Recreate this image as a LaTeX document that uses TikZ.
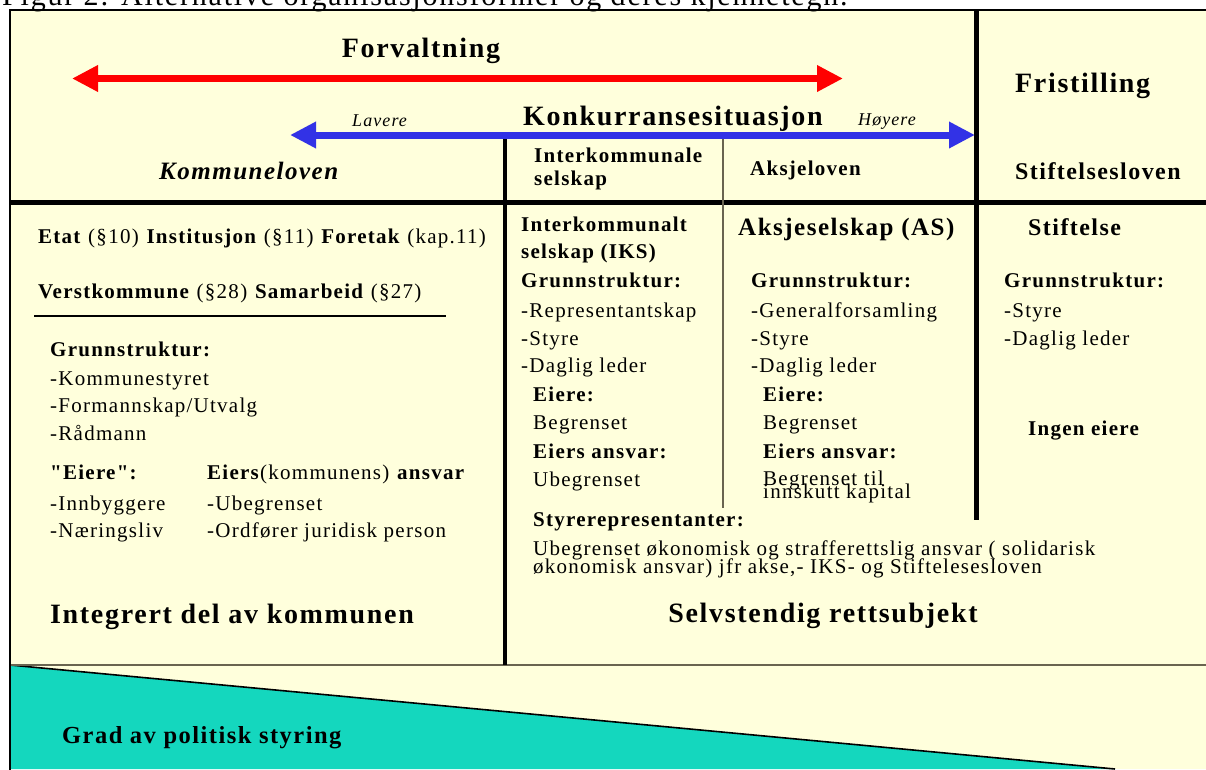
\documentclass[tikz,border=0pt]{standalone}
\usepackage{fontspec}
\setmainfont{Liberation Serif}[LetterSpace=6,Ligatures=TeXOff]
\usetikzlibrary{arrows.meta}
\definecolor{paper}{RGB}{255,255,220}
\definecolor{styring}{RGB}{20,215,190}
\definecolor{konkblue}{RGB}{50,50,230}
\definecolor{rule}{RGB}{105,100,80}

\begin{document}
\begin{tikzpicture}[x=1pt,y=-1pt,
    body/.style={anchor=base west,inner sep=0pt,font=\fontsize{21}{21}\selectfont},
    head/.style={body,font=\fontsize{21}{21}\selectfont\bfseries},
    big/.style={anchor=base west,inner sep=0pt,font=\fontsize{28}{28}\selectfont\bfseries},
    hint/.style={anchor=base west,inner sep=0pt,font=\fontsize{18}{18}\selectfont\itshape},
    thick rule/.style={line width=5pt},
    pil/.style={line width=7pt,{Triangle[length=26pt,width=25pt]}-{Triangle[length=26pt,width=25pt]}}]
  \clip (0,0) rectangle (1206,769);
  \fill[paper] (10,10) rectangle (1206,769);
  % grad av politisk styring
  \coordinate (wedgeL) at (10,665);
  \coordinate (wedgeR) at (1115,769);
  \fill[styring] (wedgeL) -- (wedgeR) -- (10,769) -- cycle;
  \draw[line width=1.6pt] (wedgeL) -- (wedgeR);
  \draw[rule,line width=1.6pt] (wedgeL) -- (1206,665);
  % ramme
  \draw[line width=1.6pt] (1210,10) -- (10,10) -- (10,775);
  \node[anchor=base west,inner sep=0pt,font=\fontsize{30}{30}\selectfont] (fig) at (2,5.5)
    {Figur 2: Alternative organisasjonsformer og deres kjennetegn.};
  % skillelinjer
  \coordinate (midtop) at (10,202);
  \coordinate (kolA) at (505,135);
  \coordinate (kolB) at (976,10);
  \coordinate (kolC) at (723,135);
  \draw[thick rule] (midtop) -- (1206,202);
  \draw[line width=4.5pt] (kolA) -- (505,665);
  \draw[thick rule] (kolB) -- (976,520);
  \draw[rule,line width=1.5pt] (kolC) -- (723,508);
  \coordinate (strekL) at (34,316);
  \coordinate (strekR) at (446,316);
  \draw[line width=1.2pt] (strekL) -- (strekR);
  % piler
  \coordinate (forvL) at (72,78.5);
  \coordinate (forvR) at (843,78.5);
  \coordinate (konkL) at (290,135);
  \coordinate (konkR) at (975,135);
  \draw[pil,red] (forvL) -- (forvR);
  \draw[pil,konkblue] (konkL) -- (konkR);

  % overskrifter
  \node[big,anchor=base] (forv) at (421,57) {Forvaltning};
  \node[big] (frist) at (1015,92) {Fristilling};
  \node[hint] (lav) at (352,126) {Lavere};
  \node[big] (konk) at (523,125) {Konkurransesituasjon};
  \node[hint] (hoy) at (858,125) {Høyere};
  \node[body,font=\fontsize{25}{25}\selectfont\bfseries\itshape] (kommlov) at (159,179) {Kommuneloven};
  \node[head] (ikslov) at (534,162) {Interkommunale};
  \node[head] (ikslov2) at (534,185) {selskap};
  \node[head] (aslov) at (750,175) {Aksjeloven};
  \node[head,font=\fontsize{24}{24}\selectfont\bfseries] (stlov) at (1015,179) {Stiftelsesloven};

  % kommunen
  \node[body] (etat) at (38,243) {\textbf{Etat} (§10) \textbf{Institusjon} (§11) \textbf{Foretak} (kap.11)};
  \node[body] (verst) at (38,298) {\textbf{Verstkommune} (§28) \textbf{Samarbeid} (§27)};
  \node[head] (kgrunn) at (50,356) {Grunnstruktur:};
  \node[body] (k1) at (50,385) {-Kommunestyret};
  \node[body] (k2) at (50,412) {-Formannskap/Utvalg};
  \node[body] (k3) at (50,440) {-Rådmann};
  \node[head] (keiere) at (50,479) {"Eiere":};
  \node[body] (kansvar) at (207,479) {\textbf{Eiers}(kommunens) \textbf{ansvar}};
  \node[body] (ke1) at (50,510) {-Innbyggere};
  \node[body] (ka1) at (207,510) {-Ubegrenset};
  \node[body] (ke2) at (50,537) {-Næringsliv};
  \node[body] (ka2) at (207,537) {-Ordfører juridisk person};
  \node[big] (integrert) at (50,623) {Integrert del av kommunen};

  % IKS
  \node[head] (iks) at (521,231) {Interkommunalt};
  \node[head] (iks2) at (521,258) {selskap (IKS)};
  \node[head] (igrunn) at (521,287) {Grunnstruktur:};
  \node[body] (i1) at (521,317) {-Representantskap};
  \node[body] (i2) at (521,345) {-Styre};
  \node[body] (i3) at (521,372) {-Daglig leder};
  \node[head] (ieiere) at (533,401) {Eiere:};
  \node[body] (ieiere2) at (533,429) {Begrenset};
  \node[head] (iansvar) at (533,458) {Eiers ansvar:};
  \node[body] (iansvar2) at (533,486) {Ubegrenset};

  % AS
  \node[head,font=\fontsize{25}{25}\selectfont\bfseries] (as) at (738,235) {Aksjeselskap (AS)};
  \node[head] (agrunn) at (751,287) {Grunnstruktur:};
  \node[body] (a1) at (751,317) {-Generalforsamling};
  \node[body] (a2) at (751,345) {-Styre};
  \node[body] (a3) at (751,372) {-Daglig leder};
  \node[head] (aeiere) at (763,401) {Eiere:};
  \node[body] (aeiere2) at (763,429) {Begrenset};
  \node[head] (aansvar) at (763,458) {Eiers ansvar:};
  \node[body] (aansvar2) at (763,485) {Begrenset til};
  \node[body] (aansvar3) at (763,498) {innskutt kapital};

  % stiftelse
  \node[head,font=\fontsize{24}{24}\selectfont\bfseries] (st) at (1028,235) {Stiftelse};
  \node[head] (sgrunn) at (1004,287) {Grunnstruktur:};
  \node[body] (s1) at (1004,317) {-Styre};
  \node[body] (s2) at (1004,345) {-Daglig leder};
  \node[head] (seiere) at (1028,435) {Ingen eiere};

  % felles
  \node[head] (styrerep) at (533,526) {Styrerepresentanter:};
  \node[body] (styrerep2) at (533,555) {Ubegrenset økonomisk og strafferettslig ansvar ( solidarisk};
  \node[body] (styrerep3) at (533,573) {økonomisk ansvar) jfr akse,- IKS- og Stifteleseslov{}en};
  \node[big,anchor=base] (selvst) at (823,622) {Selvstendig rettsubjekt};
  \node[head,font=\fontsize{24.5}{24.5}\selectfont\bfseries] (grad) at (62,743) {Grad av politisk styring};
\end{tikzpicture}
\end{document}
